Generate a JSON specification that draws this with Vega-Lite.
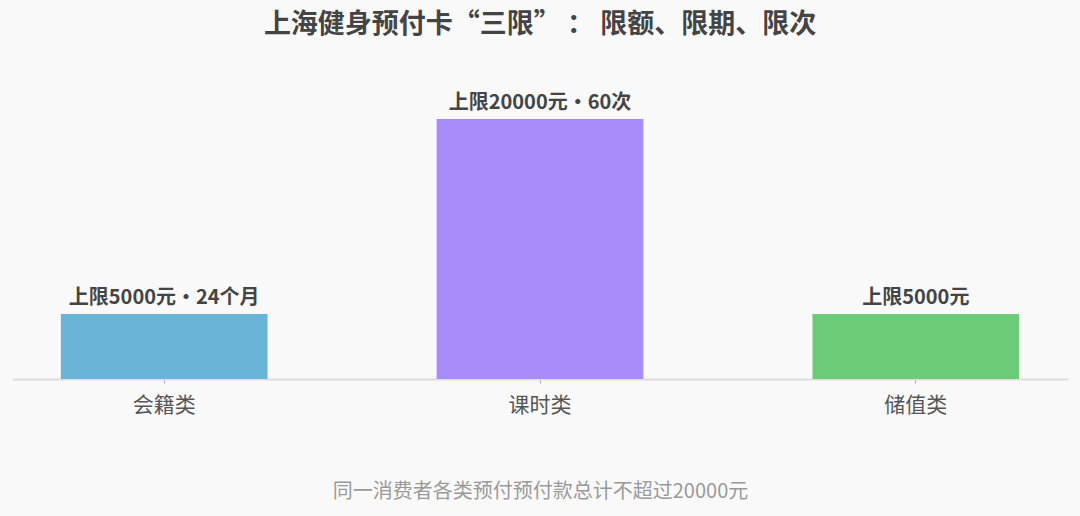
{
  "$schema": "https://vega.github.io/schema/vega-lite/v6.json",
  "autosize": "none",
  "width": 1056,
  "height": 260,
  "padding": {"left": 12, "right": 12, "top": 119, "bottom": 137},
  "background": "#f9f9f9",
  "config": {
    "font": "Noto Sans CJK SC",
    "view": {"stroke": null}
  },
  "title": {
    "text": "上海健身预付卡“三限” ： 限额、限期、限次",
    "fontSize": 27,
    "fontWeight": "bold",
    "color": "#444444",
    "anchor": "middle",
    "offset": 54
  },
  "data": {
    "values": [
      {"类型": "会籍类", "上限": 5000, "说明": "上限5000元•24个月"},
      {"类型": "课时类", "上限": 20000, "说明": "上限20000元•60次"},
      {"类型": "储值类", "上限": 5000, "说明": "上限5000元"}
    ]
  },
  "encoding": {
    "x": {
      "field": "类型",
      "type": "nominal",
      "sort": null,
      "scale": {"paddingInner": 0.45, "paddingOuter": 0.13},
      "axis": {
        "title": "同一消费者各类预付预付款总计不超过20000元",
        "titleFontSize": 20,
        "titleFontWeight": "normal",
        "titleColor": "#999999",
        "titlePadding": 66,
        "labelAngle": 0,
        "labelFontSize": 21,
        "labelColor": "#555555",
        "labelPadding": 11,
        "domainColor": "#dddddd",
        "domainWidth": 2,
        "tickColor": "#aaaaaa",
        "tickSize": 4
      }
    },
    "y": {
      "field": "上限",
      "type": "quantitative",
      "scale": {"domain": [0, 20000]},
      "axis": null
    }
  },
  "layer": [
    {
      "mark": {"type": "bar"},
      "encoding": {
        "color": {
          "field": "类型",
          "type": "nominal",
          "scale": {
            "domain": ["会籍类", "课时类", "储值类"],
            "range": ["#6ab4d8", "#a78bf8", "#6ccb77"]
          },
          "legend": null
        }
      }
    },
    {
      "mark": {
        "type": "text",
        "baseline": "bottom",
        "dy": -6,
        "fontSize": 20,
        "fontWeight": "bold",
        "color": "#444444"
      },
      "encoding": {
        "text": {"field": "说明"}
      }
    }
  ]
}
